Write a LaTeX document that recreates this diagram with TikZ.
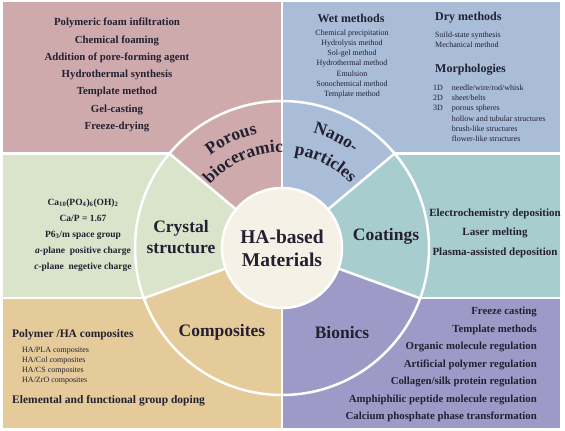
\documentclass[tikz,border=0pt]{standalone}
\usepackage{fontspec}
\setmainfont{Liberation Serif}
\usetikzlibrary{decorations.text}
\definecolor{cpink}{RGB}{206,170,172}
\definecolor{cblue}{RGB}{169,189,217}
\definecolor{cgreen}{RGB}{218,228,203}
\definecolor{cteal}{RGB}{168,205,206}
\definecolor{ctan}{RGB}{229,203,153}
\definecolor{cpurple}{RGB}{158,154,199}
\definecolor{ccream}{RGB}{246,241,230}
\definecolor{txt}{RGB}{35,32,50}
\begin{document}
\begin{tikzpicture}[x=1pt,y=1pt,
  sep/.style={draw=white, line width=2.5pt},
  tx/.style={text=txt, inner sep=0pt},
  boldtxt/.style={tx, font=\fontsize{10.8}{17.3}\selectfont\bfseries},
  smalltxt/.style={tx, font=\fontsize{8}{10.3}\selectfont},
  headtxt/.style={tx, font=\fontsize{12}{14}\selectfont\bfseries},
  sectorlbl/.style={tx, align=center, font=\fontsize{17.5}{21}\selectfont\bfseries},
  curved/.style={decorate, decoration={text along path, text align=center, text color=txt,
     text={|\fontsize{17.5}{21}\selectfont\bfseries|#1}}}
]
\useasboundingbox (0,0) rectangle (565,431);
\fill[white] (0,0) rectangle (565,431);
\coordinate (O) at (282,183);
% panels
\fill[cpink]   (2.5,277.5) rectangle (282,428.5);
\fill[cblue]   (282,277.5) rectangle (560,428.5);
\fill[cgreen]  (2.5,133)   rectangle (282,277.5);
\fill[cteal]   (282,133)   rectangle (560,277.5);
\fill[ctan]    (2.5,3)     rectangle (282,133);
\fill[cpurple] (282,3)     rectangle (560,133);
% panel separators
\draw[sep] (0,277.5) -- (565,277.5);
\draw[sep] (0,133) -- (565,133);
\draw[sep] (282,0) -- (282,431);
% sectors
\fill[cpink]   (O) -- ++(90:147)  arc[start angle=90,  end angle=140, radius=147] -- cycle;
\fill[cblue]   (O) -- ++(40:147)  arc[start angle=40,  end angle=90,  radius=147] -- cycle;
\fill[cteal]   (O) -- ++(-20:147) arc[start angle=-20, end angle=40,  radius=147] -- cycle;
\fill[cpurple] (O) -- ++(-90:147) arc[start angle=-90, end angle=-20, radius=147] -- cycle;
\fill[ctan]    (O) -- ++(200:147) arc[start angle=200, end angle=270, radius=147] -- cycle;
\fill[cgreen]  (O) -- ++(140:147) arc[start angle=140, end angle=200, radius=147] -- cycle;
\draw[sep] (O) circle[radius=147];
\foreach \a in {90,40,-20,-90,-160,140} \draw[sep] (O) -- ++(\a:147);
% centre
\node[circle, fill=ccream, draw=white, line width=2.5pt, minimum size=120pt, inner sep=0pt] (core) at (O) {};
\node[tx, align=center, font=\fontsize{19.5}{23}\selectfont\bfseries] (corelbl) at (282,182.5) {HA-based\\Materials};
% sector labels
\path[curved=Porous]     (O) ++(140:117) arc[start angle=140, end angle=90, radius=117];
\path[curved=bioceramic] (O) ++(140:96)  arc[start angle=140, end angle=88, radius=96];
\path[curved=Nano-]      (O) ++(90:119)  arc[start angle=90, end angle=38, radius=119];
\path[curved=particles]  (O) ++(90:94)   arc[start angle=90, end angle=36, radius=94];
\node[sectorlbl] (crystal) at (181,193.5) {Crystal\\structure};
\node[sectorlbl] (coat) at (386,195) {Coatings};
\node[sectorlbl] (comp) at (222,99) {Composites};
\node[sectorlbl] (bion) at (342,98) {Bionics};
% porous panel
\node[boldtxt, align=center] (porous) at (117,356) {Polymeric foam infiltration\\Chemical foaming\\Addition of pore-forming agent\\Hydrothermal synthesis\\Template method\\Gel-casting\\Freeze-drying};
% nano panel
\node[headtxt] (wethead) at (351,413) {Wet methods};
\node[smalltxt, align=center] (wet) at (352,367) {Chemical precipitation\\Hydrolysis method\\Sol-gel method\\Hydrothermal method\\Emulsion\\Sonochemical method\\Template method};
\node[headtxt, anchor=west] (dryhead) at (435,413) {Dry methods};
\node[smalltxt, anchor=west, align=left] (dry) at (435,391) {Soild-state synthesis\\Mechanical method};
\node[headtxt, anchor=west] (morphhead) at (435,361) {Morphologies};
\node[smalltxt, anchor=west] (morph) at (433,317) {\begin{tabular}{@{}l@{\hspace{9pt}}l@{}}
1D & needle/wire/rod/whisk\\
2D & sheet/belts\\
3D & porous spheres\\
   & hollow and tubular structures\\
   & brush-like structures\\
   & flower-like structures
\end{tabular}};
% crystal panel
\node[tx, align=center, font=\fontsize{9.5}{16}\selectfont\bfseries] (crys) at (83,196) {Ca\textsubscript{10}(PO\textsubscript{4})\textsubscript{6}(OH)\textsubscript{2}\\Ca/P = 1.67\\P6\textsubscript{3}/m space group\\\textit{a}-plane~~positive charge\\\textit{c}-plane~~negetive charge};
% coatings panel
\node[tx, align=center, font=\fontsize{11}{19.5}\selectfont\bfseries] (coattxt) at (495,198) {Electrochemistry deposition\\Laser melting\\Plasma-assisted deposition};
% composites panel
\node[tx, anchor=west, font=\fontsize{11.5}{14}\selectfont\bfseries] (polyhead) at (12,96) {Polymer /HA composites};
\node[smalltxt, anchor=west, align=left, font=\fontsize{8}{10}\selectfont] (polyitems) at (22,65) {HA/PLA composites\\HA/Col composites\\HA/CS composites\\HA/ZrO composites};
\node[tx, anchor=west, font=\fontsize{11.5}{14}\selectfont\bfseries] (doping) at (12,30) {Elemental and functional group doping};
% bionics panel
\node[boldtxt, anchor=east, align=right, font=\fontsize{10.8}{17.5}\selectfont\bfseries] (biontxt) at (537,66.5) {Freeze casting\\Template methods\\Organic molecule regulation\\Artificial polymer regulation\\Collagen/silk protein regulation\\Amphiphilic peptide molecule regulation\\Calcium phosphate phase transformation};
\end{tikzpicture}
\end{document}
